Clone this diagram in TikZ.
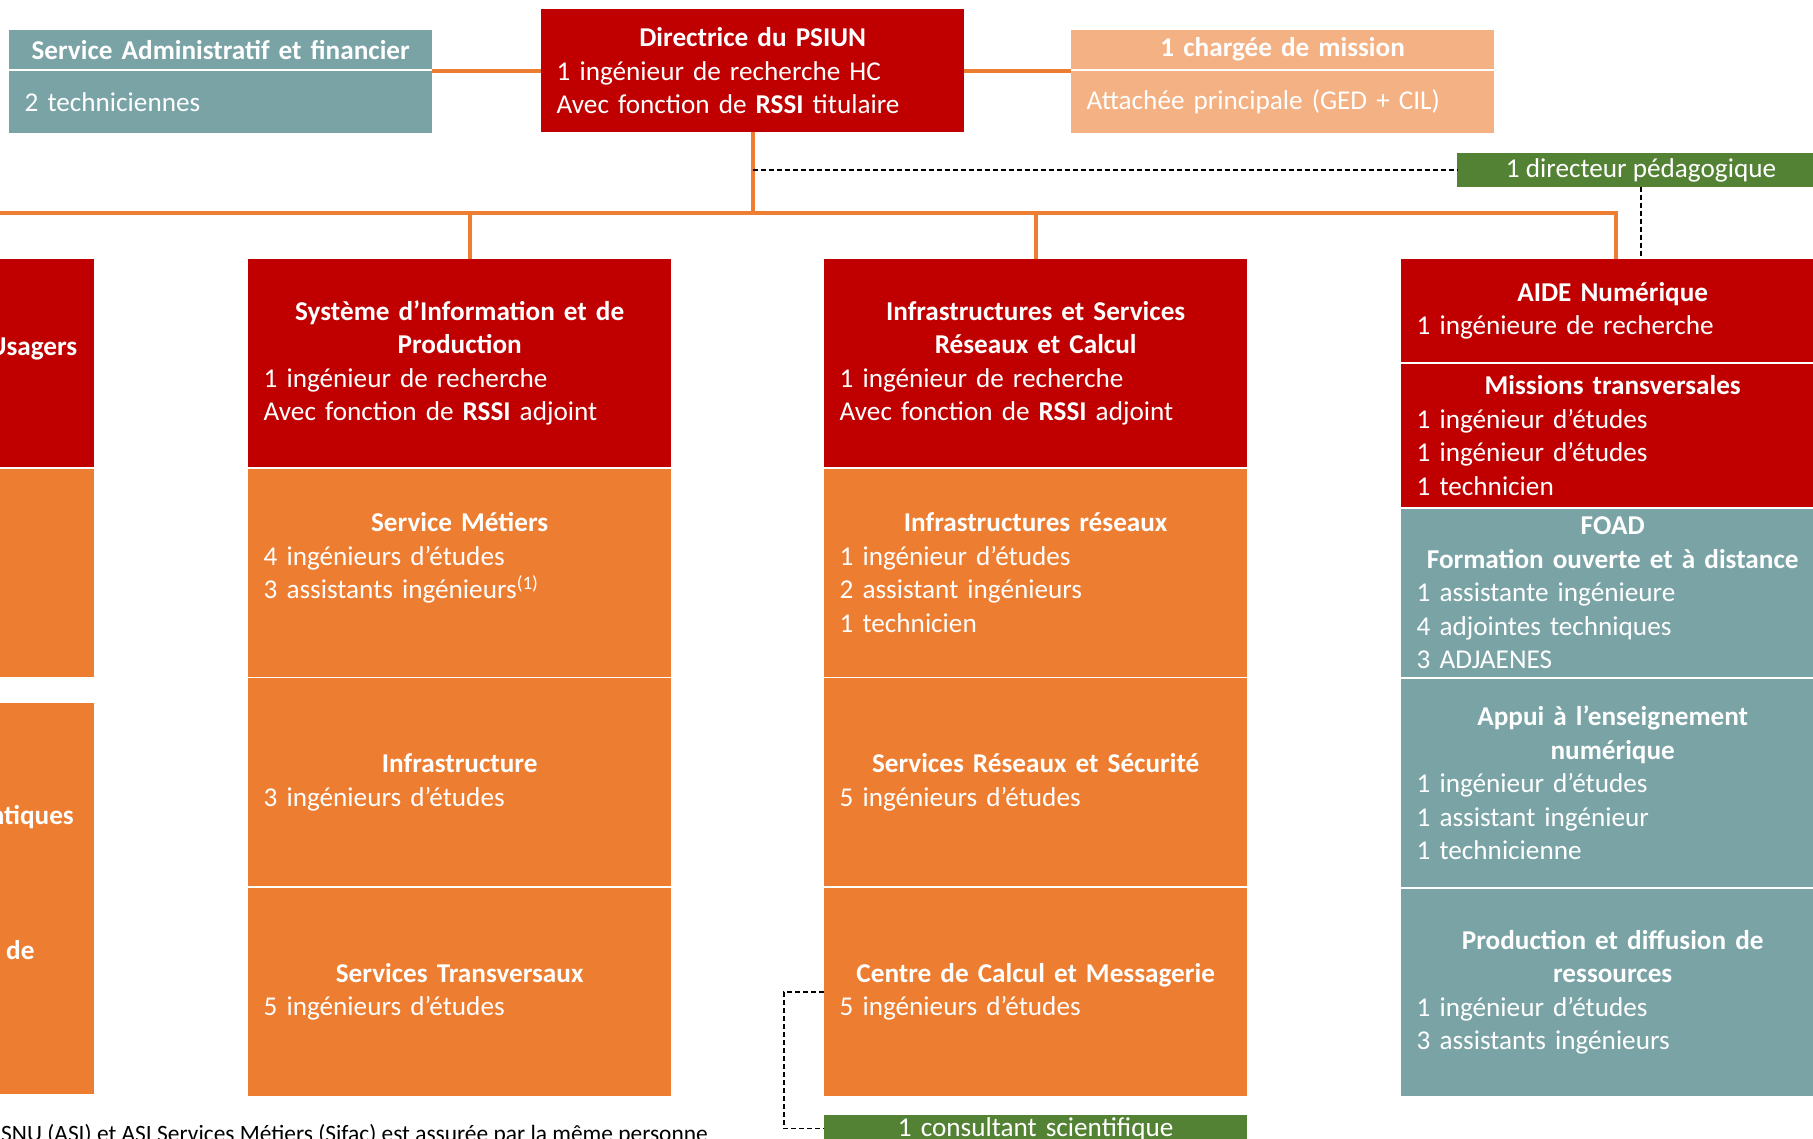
\documentclass[tikz,border=0pt]{standalone}
\usepackage{fontspec}
\setmainfont{Carlito}
\usetikzlibrary{positioning}
\definecolor{psired}{HTML}{C00000}
\definecolor{psiorange}{HTML}{ED7D31}
\definecolor{psiteal}{HTML}{7AA3A6}
\definecolor{psipeach}{HTML}{F4B183}
\definecolor{psigreen}{HTML}{548235}
\begin{document}
\begin{tikzpicture}[x=1pt, y=-1pt, node distance=1.5pt,
    font=\fontsize{27.2}{33.5}\selectfont,
    box/.style={rectangle, inner xsep=15.5pt, inner ysep=0pt, text width=392pt, minimum height=207.7pt, align=left, text=white, anchor=north west},
    head/.style={box, align=center, minimum height=39pt},
    link/.style={psiorange, line width=4pt},
    dotlink/.style={black, line width=1.3pt, dash pattern=on 5pt off 3pt},
    cut/.style={text=white, inner sep=0pt}]
  \useasboundingbox (0,0) rectangle (1813,1139);
  \clip (0,0) rectangle (1813,1139);

  \node[head, fill=psiteal] (adm_head) at (9,30) {\bfseries Service Administratif et financier};
  \node[box, fill=psiteal, minimum height=61.5pt, below=of adm_head] (adm) {2 techniciennes};
  \node[box, fill=psired, minimum height=123pt] (dir) at (541,9) {{\centering\bfseries Directrice du PSIUN\par}1 ingénieur de recherche HC\\Avec fonction de \textbf{RSSI} titulaire};
  \node[head, fill=psipeach] (chg_head) at (1071,30) {\bfseries 1 chargée de mission};
  \node[box, fill=psipeach, minimum height=61.5pt, below=of chg_head] (chg) {Attachée principale (GED + CIL)};
  \node[rectangle, fill=psigreen, text=white, inner sep=0pt, minimum width=368pt, minimum height=34pt] (peda) at (1641,170) {1 directeur pédagogique};

  \node[box, fill=psired] (lft) at (-329,259) {};
  \node[box, fill=psiorange, below=of lft] (lft_a) {};
  \node[box, fill=psiorange, minimum height=391pt, below=26.5pt of lft_a] (lft_b) {};
  \node[cut, anchor=base east] (lft_t) at (77.5,356) {\bfseries Usagers};
  \node[cut, anchor=base east] (lft_b1) at (74,824) {\bfseries ntiques};
  \node[cut, anchor=base west] (lft_b2) at (6,959) {\bfseries de};

  \node[box, fill=psired] (sip) at (248,259) {{\centering\bfseries Système d’Information et de\\Production\par}1 ingénieur de recherche\\Avec fonction de \textbf{RSSI} adjoint};
  \node[box, fill=psiorange, below=of sip] (sip_met) {{\centering\bfseries Service Métiers\par}4 ingénieurs d’études\\3 assistants ingénieurs\textsuperscript{(1)}\\~};
  \node[box, fill=psiorange, below=of sip_met] (sip_inf) {{\centering\bfseries Infrastructure\par}3 ingénieurs d’études};
  \node[box, fill=psiorange, below=of sip_inf] (sip_tra) {{\centering\bfseries Services Transversaux\par}5 ingénieurs d’études};

  \node[box, fill=psired] (isrc) at (824,259) {{\centering\bfseries Infrastructures et Services\\Réseaux et Calcul\par}1 ingénieur de recherche\\Avec fonction de \textbf{RSSI} adjoint};
  \node[box, fill=psiorange, below=of isrc] (isrc_res) {{\centering\bfseries Infrastructures réseaux\par}1 ingénieur d’études\\2 assistant ingénieurs\\1 technicien};
  \node[box, fill=psiorange, below=of isrc_res] (isrc_sec) {{\centering\bfseries Services Réseaux et Sécurité\par}5 ingénieurs d’études};
  \node[box, fill=psiorange, below=of isrc_sec] (isrc_ccm) {{\centering\bfseries Centre de Calcul et Messagerie\par}5 ingénieurs d’études};
  \node[box, fill=psigreen, align=center, minimum height=28pt, below=18.7pt of isrc_ccm] (cons) {1 consultant scientifique};

  \node[box, fill=psired, minimum height=103pt] (aide) at (1401,259) {{\centering\bfseries AIDE Numérique\par}1 ingénieure de recherche};
  \node[box, fill=psired, minimum height=142.5pt, below=of aide] (aide_mis) {{\centering\bfseries Missions transversales\par}1 ingénieur d’études\\1 ingénieur d’études\\1 technicien};
  \node[box, fill=psiteal, minimum height=168.5pt, below=of aide_mis] (aide_foad) {{\centering\bfseries FOAD\\Formation ouverte et à distance\par}1 assistante ingénieure\\4 adjointes techniques\\3 ADJAENES};
  \node[box, fill=psiteal, below=of aide_foad] (aide_app) {{\centering\bfseries Appui à l’enseignement\\numérique\par}1 ingénieur d’études\\1 assistant ingénieur\\1 technicienne};
  \node[box, fill=psiteal, below=of aide_app] (aide_prod) {{\centering\bfseries Production et diffusion de\\ressources\par}1 ingénieur d’études\\3 assistants ingénieurs};

  \node[anchor=base west, inner sep=0pt, font=\fontsize{23.4}{28}\selectfont] (note) at (1,1141) {SNU (ASI) et ASI Services Métiers (Sifac) est assurée par la même personne};

  \coordinate (bus) at (dir.south |- 0,213);
  \draw[link] (dir.west) -- (dir.west -| adm.east);
  \draw[link] (dir.east) -- (dir.east -| chg.west);
  \draw[link] (dir.south) -- (bus);
  \draw[link] (lft.north) |- (bus) -| ([xshift=3.5pt]aide.north);
  \draw[link] (bus) -| ([xshift=10.5pt]sip.north);
  \draw[link] (bus) -| (isrc.north);
  \draw[dotlink] (dir.south |- peda.west) -- (peda.west);
  \draw[dotlink] (peda.south) -- (peda.south |- aide.north);
  \draw[dotlink] (isrc_ccm.west) -- ++(-40,0) |- (cons.west);
\end{tikzpicture}
\end{document}
